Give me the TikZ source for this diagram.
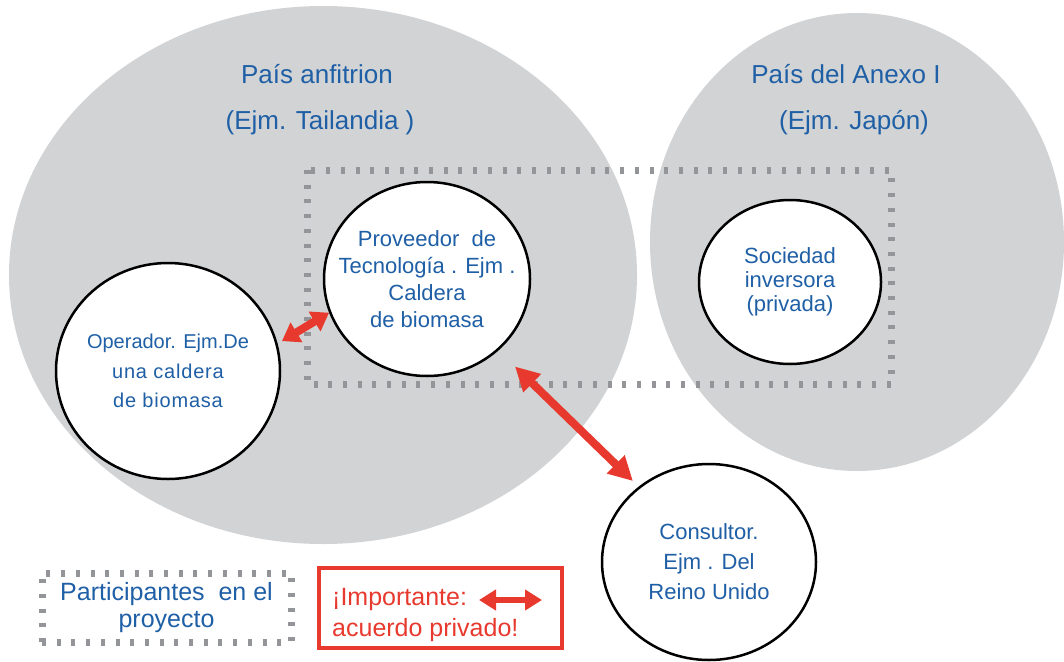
\documentclass[tikz,border=0pt]{standalone}
\usepackage{fontspec}
\setmainfont{Liberation Sans}
\newfontfamily\espaciado[LetterSpace=4]{Liberation Sans}
\usetikzlibrary{shapes.geometric,arrows.meta}
\definecolor{gris}{HTML}{D1D3D4}
\definecolor{punto}{HTML}{939598}
\definecolor{azul}{HTML}{1F5FA6}
\definecolor{rojo}{HTML}{E8392E}
\tikzset{
	pais/.style={text=azul, font=\fontsize{26}{31}\selectfont},
	actor/.style={ellipse, draw=black, line width=2.5pt, fill=white, inner xsep=-20pt, inner ysep=0pt, align=center, text=azul},
	puntos/.style={draw=punto, line width=7pt, dash pattern=on 4pt off 10.7pt},
	acuerdo/.style={draw=rojo, line width=8pt, {Triangle[length=24pt,width=24pt]}-{Triangle[length=24pt,width=24pt]}},
	acuerdochico/.style={draw=rojo, line width=8pt, {Triangle[length=17pt,width=22pt]}-{Triangle[length=17pt,width=22pt]}},
	aviso/.style={text=rojo, font=\fontsize{25}{31}\selectfont, inner sep=0pt}
}
\begin{document}
\begin{tikzpicture}[x=1pt,y=-1pt]
	\useasboundingbox (0,0) rectangle (1064,661);
	\fill [gris] (323,275) ellipse [x radius=314pt, y radius=269pt];
	\fill [gris] (857,242) ellipse [x radius=207pt, y radius=229pt];

	\node [pais] (anfitrion) at (317,74) {País anfitrion};
	\node [pais] (tailandia) at (320,123) {(Ejm. Tailandia )};
	\node [pais] (anexo) at (846,74) {País del Anexo I};
	\node [pais] (japon) at (854,123) {(Ejm. Japón)};

	\draw [puntos] (307,170) rectangle (891,384);

	\node [actor, minimum width=224pt, minimum height=216pt, font=\fontsize{20}{29.5}\selectfont] (oper) at (168,371) {Operador. Ejm.De\\{\espaciado una caldera}\\{\espaciado de biomasa}};
	\node [actor, minimum width=206pt, minimum height=194pt, font=\fontsize{22}{27}\selectfont] (prov) at (427,279) {Proveedor\ \ de\\Tecnología . Ejm .\\Caldera\\de biomasa};
	\node [actor, minimum width=182pt, minimum height=164pt, font=\fontsize{22}{24}\selectfont] (soc) at (790,282) {Sociedad\\inversora\\(privada)};
	\node [actor, minimum width=214pt, minimum height=196pt, font=\fontsize{22}{30}\selectfont] (cons) at (709,562) {Consultor.\\Ejm . Del\\Reino Unido};

	\draw [acuerdochico, shorten <=5pt] (oper.14) -- (prov.199);
	\draw [acuerdo, shorten <=23pt, shorten >=8pt] (prov.-45) -- (cons.133.5);

	\node [puntos, minimum width=249pt, minimum height=69pt, align=center, text=azul, font=\fontsize{25}{27}\selectfont] (leyenda) at (166.5,607.5) {Participantes\ \ en el\\proyecto};

	\node [draw=rojo, line width=4.5pt, minimum width=243pt, minimum height=80pt] (caja) at (440.5,608) {};
	\node [aviso, anchor=west] (importante) at (332,599) {¡Importante:};
	\node [aviso, anchor=west] (privado) at (332,630) {acuerdo privado!};
	\coordinate (izq) at (479,600);
	\coordinate (der) at (542,600);
	\draw [draw=rojo, line width=6pt, {Triangle[length=17pt,width=20pt]}-{Triangle[length=17pt,width=20pt]}] (izq) -- (der);
\end{tikzpicture}
\end{document}
